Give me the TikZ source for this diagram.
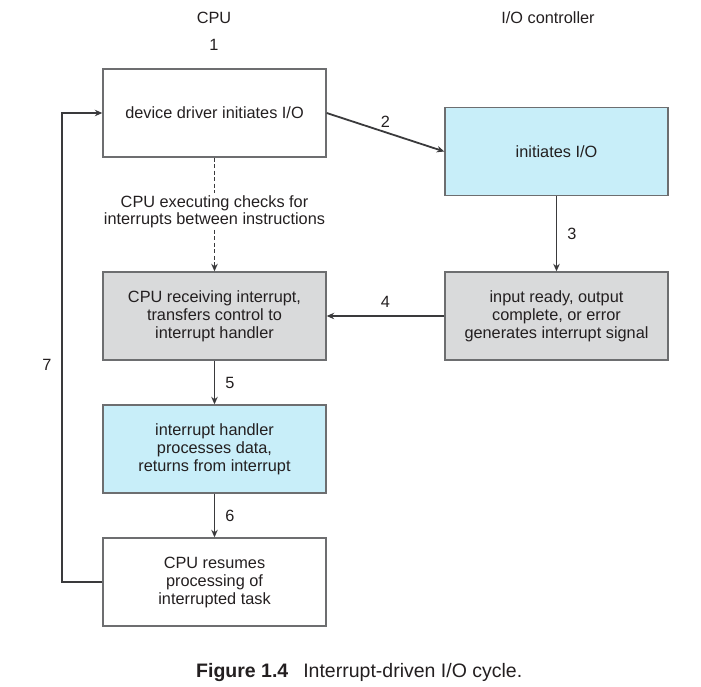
\documentclass[tikz,border=0pt]{standalone}
\usepackage{fontspec}
\setmainfont{Liberation Sans}
\usetikzlibrary{arrows.meta}
\definecolor{txt}{HTML}{231F20}
\definecolor{edge}{HTML}{6D6E70}
\definecolor{cyanfill}{HTML}{C8EEF9}
\definecolor{grayfill}{HTML}{D9DADB}
\definecolor{wire}{HTML}{3A3A3C}
\begin{document}
\begin{tikzpicture}[x=1pt,y=-1pt,
  every node/.style={text=txt,font=\fontsize{16.3}{18}\selectfont},
  stepbox/.style={draw=edge,line width=1.4pt,minimum width=223pt,minimum height=88pt,
    align=center,inner sep=0pt},
  flow/.style={draw=wire,line width=1.8pt,-{Stealth[length=7.5pt,width=6.5pt]}},
  lbl/.style={inner sep=0pt}]
\useasboundingbox (0,0) rectangle (701,686);
% CPU column
\node[stepbox] (drv) at (214.5,113) {device driver initiates I/O};
\node[stepbox,fill=grayfill] (recv) at (214.5,316) {CPU receiving interrupt,\\transfers control to\\interrupt handler};
\node[stepbox,fill=cyanfill] (hdl) at (214.5,449) {interrupt handler\\processes data,\\returns from interrupt};
\node[stepbox] (res) at (214.5,582) {CPU resumes\\processing of\\interrupted task};
% I/O controller column
\node[stepbox,fill=cyanfill] (ctl) at (556.5,151.5) {initiates I/O};
\node[stepbox,fill=grayfill] (sig) at (556.5,316) {input ready, output\\complete, or error\\generates interrupt signal};
% headings
\node[lbl] (hcpu) at (214,18) {CPU};
\node[lbl] (hio) at (548,18) {I/O controller};
\node[lbl] (n1) at (214,45) {1};
% polling note between the first two CPU steps
\node[align=center,inner sep=2pt,font=\fontsize{16.3}{17}\selectfont] (chk) at (214.5,211.5) {CPU executing checks for\\interrupts between instructions};
\draw[draw=wire,line width=1.8pt,dash pattern=on 4pt off 2.5pt] (drv.south) -- (chk.north);
\draw[flow,dash pattern=on 4pt off 2.5pt] (chk.south) -- (recv.north);
% numbered connectors
\draw[flow] (drv.east) -- (ctl.west) node[lbl,pos=0.5,above=4pt] (n2) {2};
\draw[flow] (ctl.south) -- (sig.north) node[lbl,pos=0.5,right=10pt] (n3) {3};
\draw[flow] (sig.west) -- (recv.east) node[lbl,pos=0.5,above=8pt] (n4) {4};
\draw[flow] (recv.south) -- (hdl.north) node[lbl,pos=0.5,right=10pt] (n5) {5};
\draw[flow] (hdl.south) -- (res.north) node[lbl,pos=0.5,right=10pt] (n6) {6};
\coordinate (lb) at (62,582);
\coordinate (lt) at (62,113);
\draw[flow] (res.west) -- (lb) -- (lt) -- (drv.west);
\node[lbl] (n7) at (47,365) {7};
% caption
\node[anchor=base west,inner sep=0pt,font=\fontsize{19.5}{22}\selectfont] (cap) at (196,677)
  {\textbf{Figure 1.4}\hspace{15pt}Interrupt-driven I/O cycle.};
\end{tikzpicture}
\end{document}
